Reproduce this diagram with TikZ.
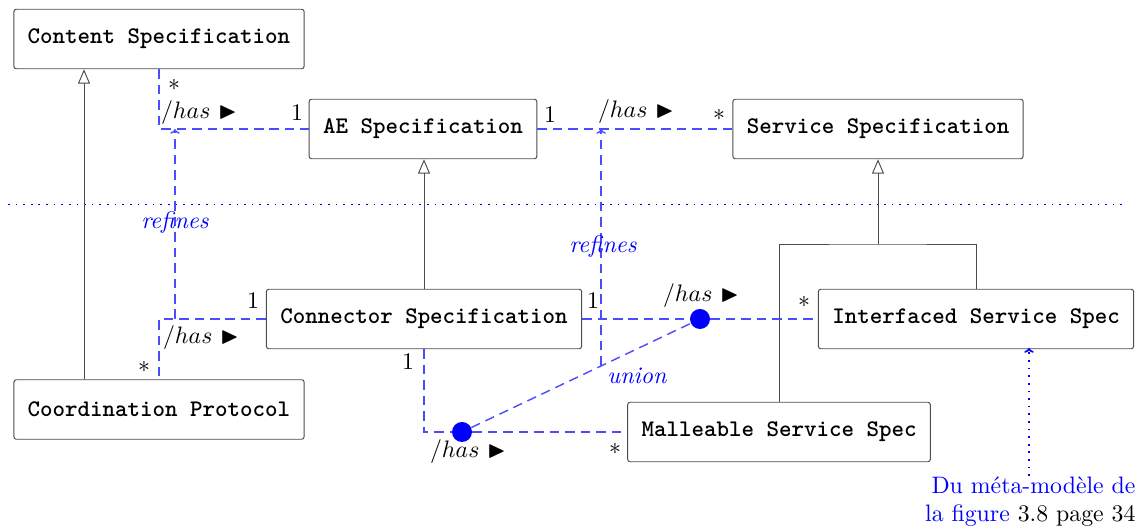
\documentclass[tikz,border=0pt]{standalone}
\usepackage{amssymb}
\usetikzlibrary{positioning,arrows.meta}

\tikzset{
  class/.style={draw=black!70, rounded corners=1pt, fill=white, font=\ttfamily\bfseries,
    minimum height=25pt, inner xsep=5.8pt},
  gen/.style={color=black!70, -{Triangle[open, length=6pt, width=5pt]}},
  genline/.style={color=black!70},
  assoc/.style={color=blue!70, line width=0.6pt, dash pattern=on 4pt off 2.5pt},
  refine/.style={assoc, -{To[length=2pt, width=4pt]}},
  sep/.style={color=blue, line width=0.7pt, dash pattern=on 0.7pt off 2.5pt},
  noteline/.style={sep, -{To[length=2pt, width=4pt]}},
  union/.style={circle, fill=blue, inner sep=0pt, minimum size=8.4pt},
  mult/.style={inner sep=1pt},
  tag/.style={inner sep=1pt, text=blue, font=\itshape},
}
\newcommand{\has}{$/has$ $\blacktriangleright$}

\begin{document}
\begin{tikzpicture}[x=0.42pt, y=-0.42pt]
        \useasboundingbox (0,0) rectangle (1148,526);
        % NODES
        % -----------------
        \node[class] (content) at (159,39) {Content Specification};
        \node[class] (ae) at (423,129) {AE Specification};
        \node[class] (service) at (878,129) {Service Specification};
        \node[class] (connector) at (424,319) {Connector Specification};
        \node[class] (interfaced) at (976,319) {Interfaced Service Spec};
        \node[class] (coordination) at (159,409.5) {Coordination Protocol};
        \node[class] (malleable) at (779,432) {Malleable Service Spec};
        
        \node[union] (u_top) at (700,319) {};
        \node[union] (u_bot) at (462,432) {};
        
        \node[inner sep=0pt, align=right, anchor=north east] (note) at (1136,476)
          {\textcolor{blue}{Du méta-modèle de}\\ \textcolor{blue}{la figure} 3.8 page 34};
        
        \coordinate (fork) at (878,244);
        \coordinate (g_left) at (84,0);
        \coordinate (ref_left) at (175,319);
        \coordinate (note_tip) at (1029,348);
        
        % SEPARATOR
        % -----------------
        \draw[sep] (8,204.6) -- (1128,204.6);
        
        % GENERALISATIONS
        % -----------------
        \draw[gen] (coordination.north -| g_left) -- (content.south -| g_left);
        \draw[gen] (connector.north) -- (connector.north |- ae.south);
        \draw[genline] (malleable.north) |- (fork) -| (interfaced.north);
        \draw[gen] (fork) -- (service.south);
        
        % ASSOCIATIONS
        % -----------------
        \draw[assoc] (content.south) |- (ae.west);
        \draw[assoc] (ae.east) -- (service.west);
        \draw[assoc] (connector.west) -| (coordination.north);
        \draw[assoc] (connector.east) -- (u_top) -- (interfaced.west);
        \draw[assoc] (connector.south) |- (u_bot) -- (malleable.west);
        \draw[assoc] (u_bot) -- coordinate[pos=0.592] (u_mid) (u_top);
        
        % REFINES
        \draw[refine] (ref_left) -- (ref_left |- ae.west);
        \draw[refine] (u_mid) -- (u_mid |- ae.east);
        \draw[noteline] (note.north -| note_tip) -- (note_tip);
        
        % LABELS
        % -----------------
        \node[mult] (m_content) at (174,85) {$*$};
        \node[mult] (m_ae_l) at (297,113) {1};
        \node[mult] (m_ae_r) at (550,115) {1};
        \node[mult] (m_service) at (719,115) {$*$};
        \node[mult] (m_conn_l) at (253,301) {1};
        \node[mult] (m_coord) at (144,367) {$*$};
        \node[mult] (m_conn_r) at (593,301) {1};
        \node[mult] (m_interf) at (804,302) {$*$};
        \node[mult] (m_conn_b) at (408,362) {1};
        \node[mult] (m_mall) at (615,449) {$*$};
        
        \node[mult] (has_ca) at (199,113) {\has};
        \node[mult] (has_as) at (636,112) {\has};
        \node[mult] (has_cc) at (201,338) {\has};
        \node[mult] (has_ci) at (701,296) {\has};
        \node[mult] (has_cm) at (468,452) {\has};
        
        \node[tag] (ref_a) at (175,223) {refines};
        \node[tag] (ref_b) at (603,247) {refines};
        \node[tag] (union_lbl) at (637,376) {union};
\end{tikzpicture}
\end{document}
